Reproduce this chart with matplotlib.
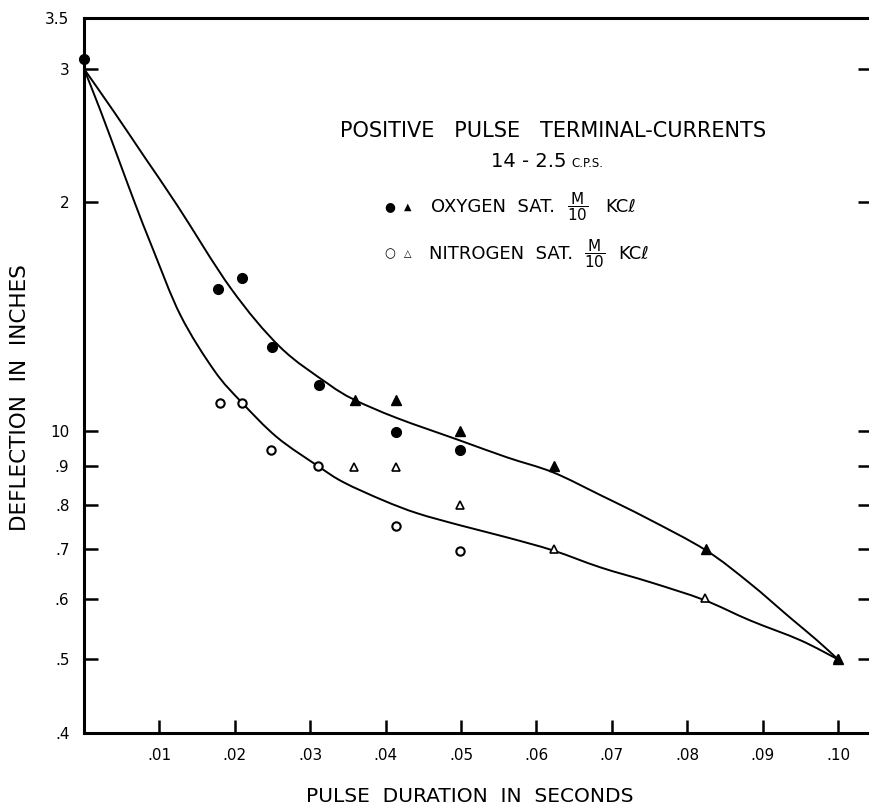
import matplotlib
matplotlib.use('Agg')
import numpy as np
import matplotlib.pyplot as plt
from matplotlib.path import Path
from matplotlib.patches import PathPatch
from matplotlib.ticker import NullLocator

# Data (x = pulse duration in s, y = deflection in inches)
oxy_circle_x = [0.0, 0.0178, 0.0210, 0.0249, 0.0312, 0.0414, 0.0498]
oxy_circle_y = [3.09, 1.54, 1.59, 1.29, 1.15, 0.996, 0.943]
oxy_tri_x = [0.0359, 0.0414, 0.0498, 0.0623, 0.0825, 0.1000]
oxy_tri_y = [1.10, 1.10, 1.00, 0.90, 0.70, 0.50]

nit_circle_x = [0.0181, 0.0209, 0.0248, 0.0310, 0.0414, 0.0498]
nit_circle_y = [1.09, 1.09, 0.943, 0.898, 0.749, 0.694]
nit_tri_x = [0.0358, 0.0414, 0.0499, 0.0623, 0.0823, 0.1000]
nit_tri_y = [0.896, 0.896, 0.798, 0.698, 0.602, 0.500]

# hand drawn curves
oxy_curve_x = [0.0, 0.0039, 0.0081, 0.0124, 0.0195, 0.0260, 0.0323, 0.0358, 0.0415,
               0.0498, 0.0561, 0.0622, 0.0685, 0.0747, 0.0825, 0.0883, 0.0936,
               0.0972, 0.1000]
oxy_curve_y = [3.00, 2.64, 2.29, 1.98, 1.54, 1.29, 1.155, 1.10, 1.04,
               0.972, 0.923, 0.882, 0.823, 0.767, 0.696, 0.630, 0.568,
               0.530, 0.500]
nit_curve_x = [0.0, 0.0022, 0.0048, 0.0068, 0.0091, 0.0128, 0.0173, 0.0209, 0.0256,
               0.0311, 0.0344, 0.0397, 0.0442, 0.0499, 0.0561, 0.0622, 0.0685,
               0.0751, 0.0822, 0.0883, 0.0950, 0.1000]
nit_curve_y = [3.00, 2.64, 2.25, 1.99, 1.74, 1.42, 1.20, 1.091, 0.981,
               0.898, 0.856, 0.810, 0.779, 0.751, 0.724, 0.696, 0.661,
               0.632, 0.599, 0.563, 0.530, 0.500]

y_ticks = [0.4, 0.5, 0.6, 0.7, 0.8, 0.9, 1.0, 2.0, 3.0, 3.5]
y_labels = ['.4', '.5', '.6', '.7', '.8', '.9', '10', '2', '3', '3.5']
x_ticks = [0.01, 0.02, 0.03, 0.04, 0.05, 0.06, 0.07, 0.08, 0.09, 0.10]
x_labels = ['.01', '.02', '.03', '.04', '.05', '.06', '.07', '.08', '.09', '.10']


def smooth_curve(ax, xs, ys, **kw):
    # french-curve look: bezier segments through the read points (log y space)
    p = np.column_stack([xs, np.log10(ys)])
    ext = np.vstack([p[0], p, p[-1]])
    verts = [p[0]]
    codes = [Path.MOVETO]
    for i in range(len(p) - 1):
        c1 = ext[i + 1] + (ext[i + 2] - ext[i]) / 6
        c2 = ext[i + 2] - (ext[i + 3] - ext[i + 1]) / 6
        verts += [c1, c2, ext[i + 2]]
        codes += [Path.CURVE4] * 3
    verts = np.array(verts)
    verts[:, 1] = 10 ** verts[:, 1]
    ax.add_patch(PathPatch(Path(verts, codes), fill=False, **kw))


W, H = 870, 808
fig = plt.figure(figsize=(W / 100, H / 100), dpi=100)
ax = fig.add_axes([84 / W, 75 / H, (872 - 84) / W, 715 / H])

ax.set_yscale('log')
ax.set_ylim(0.4, 3.5)
ax.set_xlim(0, 0.1045)

# curves
smooth_curve(ax, oxy_curve_x, oxy_curve_y, edgecolor='black', lw=1.4, zorder=2)
smooth_curve(ax, nit_curve_x, nit_curve_y, edgecolor='black', lw=1.4, zorder=2)

# points
ax.plot(oxy_circle_x, oxy_circle_y, 'o', color='black', ms=7, zorder=4, clip_on=False)
ax.plot(oxy_tri_x, oxy_tri_y, '^', color='black', ms=6.5, zorder=4, clip_on=False)
ax.plot(nit_circle_x, nit_circle_y, 'o', mfc='white', mec='black', ms=6, mew=1.5,
        zorder=4, clip_on=False)
ax.plot(nit_tri_x, nit_tri_y, '^', mfc='white', mec='black', ms=6, mew=1.2,
        zorder=3, clip_on=False)

# axes
ax.set_yticks(y_ticks)
ax.set_yticklabels(y_labels)
ax.yaxis.set_minor_locator(NullLocator())
ax.set_xticks(x_ticks)
ax.set_xticklabels(x_labels)

for side in ['left', 'bottom', 'top']:
    ax.spines[side].set_linewidth(2.2)
ax.spines['right'].set_visible(False)

ax.tick_params(axis='y', direction='in', length=10, width=1.8, right=True,
               labelright=False, pad=10.5, labelsize=11)
ax.tick_params(axis='x', direction='in', length=9.5, width=1.8, top=False,
               pad=10.5, labelsize=11)

ax.set_xlabel('PULSE  DURATION  IN  SECONDS', fontsize=14.5, va='center')
ax.xaxis.set_label_coords(0.49, (733 - 797) / 715)
ax.set_ylabel('DEFLECTION  IN  INCHES', fontsize=15.5, va='center')
ax.yaxis.set_label_coords((20 - 84) / 788, (733 - 398) / 715)

# title block and key
fig.text(553 / W, 1 - 131 / H, 'POSITIVE   PULSE   TERMINAL-CURRENTS',
         ha='center', va='center', fontsize=15)
fig.text(567 / W, 1 - 167 / H, '14 - 2.5', ha='right', va='baseline', fontsize=14)
fig.text(571 / W, 1 - 167 / H, 'C.P.S.', ha='left', va='baseline', fontsize=8.5)

fig.text(390 / W, 1 - 207 / H, '\u25CF', ha='center', va='center', fontsize=9)
fig.text(408 / W, 1 - 207 / H, '\u25B2', ha='center', va='center', fontsize=7)
fig.text(431 / W, 1 - 207 / H, 'OXYGEN  SAT.', ha='left', va='center', fontsize=13)
fig.text(578 / W, 1 - 207 / H, r'$\dfrac{\mathrm{M}}{\mathrm{10}}$',
         ha='center', va='center', fontsize=11)
fig.text(605 / W, 1 - 207 / H, 'KC\u2113', ha='left', va='center', fontsize=13)

fig.text(390 / W, 1 - 254 / H, '\u25CB', ha='center', va='center', fontsize=9,
         fontweight='bold')
fig.text(408 / W, 1 - 254 / H, '\u25B3', ha='center', va='center', fontsize=7,
         fontweight='bold')
fig.text(429 / W, 1 - 254 / H, 'NITROGEN  SAT.', ha='left', va='center', fontsize=13)
fig.text(595 / W, 1 - 254 / H, r'$\dfrac{\mathrm{M}}{\mathrm{10}}$',
         ha='center', va='center', fontsize=11)
fig.text(618 / W, 1 - 254 / H, 'KC\u2113', ha='left', va='center', fontsize=13)

fig.savefig('out.png', dpi=100)
